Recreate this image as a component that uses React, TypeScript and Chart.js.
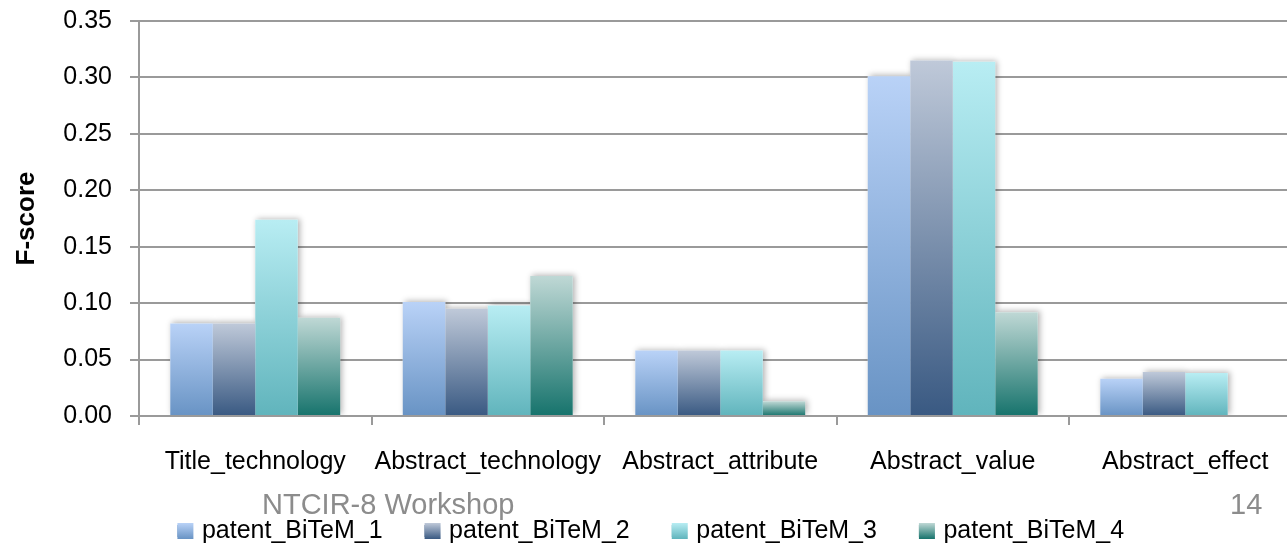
import React, { useEffect, useRef } from 'react';
import { Chart, registerables } from 'chart.js';

Chart.register(...registerables);

const categories = ['Title_technology', 'Abstract_technology', 'Abstract_attribute', 'Abstract_value', 'Abstract_effect'];
const seriesNames = ['patent_BiTeM_1', 'patent_BiTeM_2', 'patent_BiTeM_3', 'patent_BiTeM_4'];
const bitem1 = [0.082, 0.101, 0.058, 0.301, 0.033];
const bitem2 = [0.082, 0.095, 0.058, 0.315, 0.039];
const bitem3 = [0.174, 0.098, 0.058, 0.314, 0.038];
const bitem4 = [0.087, 0.124, 0.013, 0.092, null];
const yTicks = [0, 0.05, 0.1, 0.15, 0.2, 0.25, 0.3, 0.35];
const yTitle = 'F-score';
const footerLeft = 'NTCIR-8 Workshop';
const footerRight = '14';

const gradientTops = ['#b9d2f7', '#bfc9d9', '#b8edf3', '#bfd8d5'];
const gradientBottoms = ['#6893c4', '#395982', '#60b4bc', '#16736c'];
const legendColors = ['#9dbbe8', '#8597b2', '#97d8df', '#78afa9'];

const FONT = '"Liberation Sans", Arial, sans-serif';
const GRID = '#9a9a9a';

const barShadow = {
  id: 'barShadow',
  beforeDatasetsDraw(chart: any) {
    const ctx = chart.ctx;
    const area = chart.chartArea;
    ctx.save();
    ctx.beginPath();
    ctx.rect(area.left, area.top - 20, area.right - area.left + 20, area.bottom - area.top + 19);
    ctx.clip();
    ctx.shadowColor = 'rgba(0,0,0,0.3)';
    ctx.shadowBlur = 6;
    ctx.shadowOffsetX = 2;
    ctx.shadowOffsetY = -1;
    ctx.fillStyle = '#ffffff';
    chart.data.datasets.forEach((ds: any, i: number) => {
      const meta = chart.getDatasetMeta(i);
      if (meta.hidden) return;
      meta.data.forEach((el: any, j: number) => {
        if (ds.data[j] == null) return;
        const p = el.getProps(['x', 'y', 'base', 'width'], true);
        ctx.fillRect(p.x - p.width / 2, Math.min(p.y, p.base), p.width, Math.abs(p.base - p.y));
      });
    });
    ctx.restore();
  },
  afterDraw(chart: any) {
    const lg = chart.legend;
    if (!lg || !lg.legendHitBoxes) return;
    const ctx = chart.ctx;
    ctx.save();
    lg.legendHitBoxes.forEach((hb: any, i: number) => {
      const size = 16;
      const bx = hb.left;
      const by = hb.top + hb.height / 2 - size / 2;
      const g = ctx.createLinearGradient(0, by, 0, by + size);
      g.addColorStop(0, gradientTops[i]);
      g.addColorStop(1, gradientBottoms[i]);
      ctx.fillStyle = g;
      ctx.fillRect(bx, by, size, size);
    });
    ctx.restore();
  },
};

function makeBg(idx: number) {
  return (c: any) => {
    if (c.type !== 'data' || c.raw == null) return legendColors[idx];
    const ys = c.chart.scales.y;
    if (!ys) return legendColors[idx];
    const top = ys.getPixelForValue(c.raw);
    const bottom = ys.getPixelForValue(0);
    if (!isFinite(top) || !isFinite(bottom) || top === bottom) return legendColors[idx];
    const g = c.chart.ctx.createLinearGradient(0, top, 0, bottom);
    g.addColorStop(0, gradientTops[idx]);
    g.addColorStop(1, gradientBottoms[idx]);
    return g;
  };
}

export default function App() {
  const ref = useRef<HTMLCanvasElement | null>(null);

  useEffect(() => {
    if (!ref.current) return;
    const seriesData = [bitem1, bitem2, bitem3, bitem4];
    const chart = new Chart(ref.current, {
      type: 'bar',
      data: {
        labels: categories,
        datasets: seriesNames.map((name, i) => ({
          label: name,
          data: seriesData[i],
          backgroundColor: makeBg(i),
          borderWidth: 0,
          categoryPercentage: 0.731,
          barPercentage: 1.0,
        })),
      },
      options: {
        responsive: false,
        animation: false,
        layout: { padding: { left: 0, right: 8.5, top: 21, bottom: 0 } },
        plugins: {
          legend: {
            position: 'bottom',
            maxHeight: 68.5,
            labels: {
              boxWidth: 12,
              boxHeight: 12,
              padding: 42,
              color: '#000000',
              font: { family: FONT, size: 25 },
            },
          },
          tooltip: { enabled: false },
        },
        scales: {
          x: {
            grid: {
              display: true,
              drawOnChartArea: false,
              drawTicks: true,
              tickLength: 9,
              offset: true,
              color: GRID,
              lineWidth: 2,
            },
            border: { display: true, color: GRID, width: 2 },
            ticks: {
              color: '#000000',
              font: { family: FONT, size: 25 },
              padding: 22,
              maxRotation: 0,
              minRotation: 0,
              autoSkip: false,
            },
            afterFit: (s: any) => {
              s.height = 60.5;
              s.paddingLeft = 0;
              s.paddingRight = 0;
            },
          },
          y: {
            min: 0,
            max: 0.35,
            afterBuildTicks: (s: any) => {
              s.ticks = yTicks.map((v) => ({ value: v }));
            },
            grid: { color: GRID, lineWidth: 2, tickLength: 9, drawTicks: true },
            border: { display: true, color: GRID, width: 2 },
            ticks: {
              color: '#000000',
              font: { family: FONT, size: 25 },
              padding: 18,
              callback: (v: any) => Number(v).toFixed(2),
            },
            title: {
              display: true,
              text: yTitle,
              color: '#000000',
              font: { family: FONT, size: 26, weight: 'bold' },
              padding: { top: 11, bottom: 0 },
            },
            afterFit: (s: any) => {
              s.width = 139;
              s.paddingTop = 15;
              s.paddingBottom = 15;
            },
          },
        },
      } as any,
      plugins: [barShadow],
    });
    return () => chart.destroy();
  }, []);

  const footerStyle: React.CSSProperties = {
    position: 'absolute',
    top: 490,
    font: `29px ${FONT}`,
    lineHeight: '29px',
    color: '#8c8c8c',
    whiteSpace: 'nowrap',
  };

  return (
    <div style={{ position: 'fixed', left: 0, top: 0, width: 1287, height: 545, overflow: 'hidden', background: '#ffffff' }}>
      <canvas ref={ref} width={1310} height={545} style={{ display: 'block', width: 1310, height: 545 }} />
      <div style={{ ...footerStyle, left: 262 }}>{footerLeft}</div>
      <div style={{ ...footerStyle, left: 1230 }}>{footerRight}</div>
    </div>
  );
}
